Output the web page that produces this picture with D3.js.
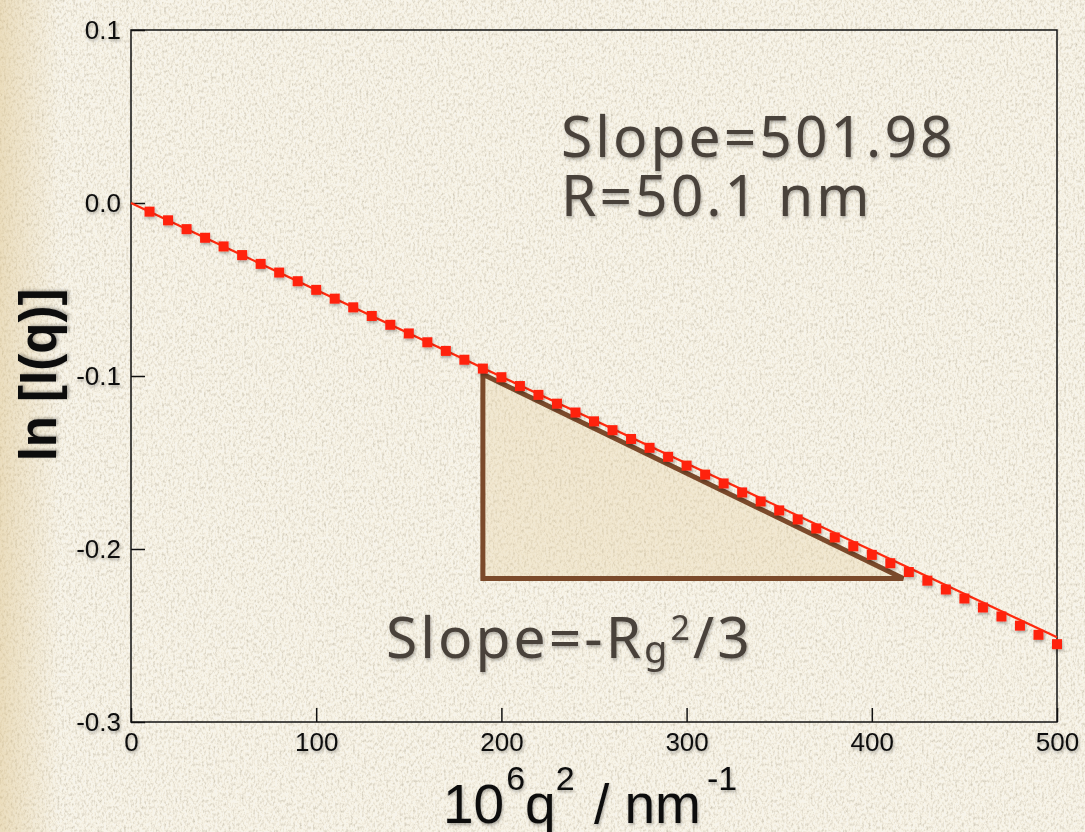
<!DOCTYPE html>
<html>
<head>
<meta charset="utf-8">
<script src="https://cdn.jsdelivr.net/npm/d3@7"></script>
<style>
  body { margin: 0; background: #ede5d1; }
  svg { display: block; }
  .tick text { font-family: "Liberation Sans", Arial, sans-serif; font-size: 26px; fill: #111; }
  .tick line { stroke: #111; stroke-width: 1.5; }
</style>
</head>
<body>
<div id="chart"></div>
<script>
// --> DATA
var qSquared = [10, 20, 30, 40, 50, 60, 70, 80, 90, 100,
                110, 120, 130, 140, 150, 160, 170, 180, 190, 200,
                210, 220, 230, 240, 250, 260, 270, 280, 290, 300,
                310, 320, 330, 340, 350, 360, 370, 380, 390, 400,
                410, 420, 430, 440, 450, 460, 470, 480, 490, 500];
var lnI = [-0.0050, -0.0100, -0.0151, -0.0201, -0.0251, -0.0301, -0.0352, -0.0402, -0.0452, -0.0502,
           -0.0553, -0.0603, -0.0653, -0.0704, -0.0754, -0.0805, -0.0855, -0.0906, -0.0957, -0.1007,
           -0.1058, -0.1109, -0.1160, -0.1211, -0.1262, -0.1313, -0.1364, -0.1415, -0.1467, -0.1518,
           -0.1570, -0.1621, -0.1673, -0.1725, -0.1777, -0.1829, -0.1881, -0.1933, -0.1984, -0.2034,
           -0.2082, -0.2133, -0.2183, -0.2234, -0.2286, -0.2338, -0.2390, -0.2443, -0.2496, -0.2550];
// straight fit line ends
var fitX = [0, 500];
var fitY = [0, -0.2510];
// slope triangle corners
var triX = [190, 190, 417];
var triY = [-0.099, -0.217, -0.217];
var xTicks = [0, 100, 200, 300, 400, 500];
var yTicks = [0.1, 0.0, -0.1, -0.2, -0.3];

// --> CREATE SVG DRAWING AREA
var width = 1085,
    height = 832;
var margin = { top: 30, right: 28, bottom: 110, left: 131 };

var svg = d3.select("#chart").append("svg")
    .attr("width", width)
    .attr("height", height);

var defs = svg.append("defs");

// paper texture
var paper = defs.append("filter").attr("id", "paper")
    .attr("x", 0).attr("y", 0).attr("width", "100%").attr("height", "100%");
paper.append("feTurbulence")
    .attr("type", "fractalNoise")
    .attr("baseFrequency", "0.45 0.3")
    .attr("numOctaves", 3)
    .attr("seed", 4)
    .attr("result", "noise");
paper.append("feColorMatrix")
    .attr("in", "noise")
    .attr("type", "matrix")
    .attr("values", "1.3 0 0 0 0.30  1.3 0 0 0 0.27  1.3 0 0 0 0.19  0 0 0 0 0.5");

var edge = defs.append("linearGradient").attr("id", "edge")
    .attr("x1", 0).attr("x2", 1).attr("y1", 0).attr("y2", 0);
edge.append("stop").attr("offset", "0%").attr("stop-color", "#dcc28a").attr("stop-opacity", 0.45);
edge.append("stop").attr("offset", "100%").attr("stop-color", "#dcc28a").attr("stop-opacity", 0);

var shadow = defs.append("filter").attr("id", "shadow")
    .attr("x", "-20%").attr("y", "-20%").attr("width", "140%").attr("height", "160%");
shadow.append("feDropShadow")
    .attr("dx", 1).attr("dy", 2).attr("stdDeviation", 1.4)
    .attr("flood-color", "#000").attr("flood-opacity", 0.3);

svg.append("rect").attr("width", width).attr("height", height).attr("fill", "#efe8d6");
svg.append("rect").attr("width", width).attr("height", height).attr("filter", "url(#paper)");
svg.append("rect").attr("width", 60).attr("height", height).attr("fill", "url(#edge)");

var x = d3.scaleLinear().domain([0, 500]).range([margin.left, width - margin.right]);
var y = d3.scaleLinear().domain([-0.3, 0.1]).range([height - margin.bottom, margin.top]);

// axes
var xAxis = d3.axisBottom(x).tickValues(xTicks).tickSizeInner(-14).tickSizeOuter(0).tickPadding(11)
    .tickFormat(d3.format("d"));
var yAxis = d3.axisLeft(y).tickValues(yTicks).tickSizeInner(-14).tickSizeOuter(0).tickPadding(10)
    .tickFormat(function(d) { return d3.format(".1f")(d).replace("\u2212", "-"); });

var gx = svg.append("g")
    .attr("transform", "translate(0," + (height - margin.bottom) + ")")
    .call(xAxis);
var gy = svg.append("g")
    .attr("transform", "translate(" + margin.left + ",0)")
    .call(yAxis);
gx.select(".domain").remove();
gy.select(".domain").remove();
gx.selectAll("text").attr("filter", "url(#shadow)");
gy.selectAll("text").attr("filter", "url(#shadow)");

svg.append("rect")
    .attr("x", x(0)).attr("y", y(0.1))
    .attr("width", x(500) - x(0)).attr("height", y(-0.3) - y(0.1))
    .attr("fill", "none").attr("stroke", "#111").attr("stroke-width", 1.5);

// slope triangle
var tri = triX.map(function(d, i) { return [d, triY[i]]; });
var triLine = d3.line().x(function(p) { return x(p[0]); }).y(function(p) { return y(p[1]); });
svg.append("path")
    .datum(tri)
    .attr("d", function(d) { return triLine(d) + "Z"; })
    .attr("fill", "#e4cc9c").attr("fill-opacity", 0.3)
    .attr("stroke", "#7b4a2b").attr("stroke-width", 5)
    .attr("stroke-linejoin", "miter");

// fit line
svg.append("line")
    .attr("x1", x(fitX[0])).attr("y1", y(fitY[0]))
    .attr("x2", x(fitX[1])).attr("y2", y(fitY[1]))
    .attr("stroke", "#ff2a0e").attr("stroke-width", 2.2);

// data markers
var size = 10;
svg.append("g")
    .attr("filter", "url(#shadow)")
    .selectAll("rect")
    .data(qSquared)
    .enter().append("rect")
    .attr("x", function(d) { return x(d) - size / 2; })
    .attr("y", function(d, i) { return y(lnI[i]) - size / 2; })
    .attr("width", size)
    .attr("height", size)
    .attr("fill", "#ff2410");

// annotations
var noteFont = '"Noto Sans", "Open Sans", sans-serif';
var note = svg.append("g")
    .attr("fill", "#4a423b")
    .style("font-family", noteFont)
    .style("font-size", "57px")
    .style("letter-spacing", "3px")
    .attr("filter", "url(#shadow)");
note.append("text").attr("x", 561).attr("y", 157).text("Slope=501.98");
note.append("text").attr("x", 561).attr("y", 216).text("R=50.1 nm");

var rg = note.append("text").attr("x", 386).attr("y", 658);
rg.append("tspan").text("Slope=-R");
rg.append("tspan").attr("dy", 5).style("font-size", "38px").text("g");
rg.append("tspan").attr("dy", -23).style("font-size", "34px").text("2");
rg.append("tspan").attr("dy", 18).text("/3");

// axis titles
var titleFont = '"Liberation Sans", Arial, sans-serif';
svg.append("text")
    .attr("transform", "translate(56,375) rotate(-90)")
    .attr("text-anchor", "middle")
    .style("font-family", titleFont)
    .style("font-size", "51px")
    .style("font-weight", "bold")
    .attr("fill", "#111")
    .attr("filter", "url(#shadow)")
    .text("ln [I(q)]");

var xt = svg.append("text")
    .attr("x", 443).attr("y", 823)
    .style("font-family", titleFont)
    .style("font-size", "55px")
    .attr("fill", "#111")
    .attr("filter", "url(#shadow)");
xt.append("tspan").text("10");
xt.append("tspan").attr("dx", 2).attr("dy", -33).style("font-size", "34px").text("6");
xt.append("tspan").attr("dy", 33).text("q");
xt.append("tspan").attr("dy", -33).style("font-size", "34px").text("2");
xt.append("tspan").attr("dx", 4).attr("dy", 33).text(" / nm");
xt.append("tspan").attr("dx", 6).attr("dy", -33).style("font-size", "34px").text("-1");
</script>
</body>
</html>
